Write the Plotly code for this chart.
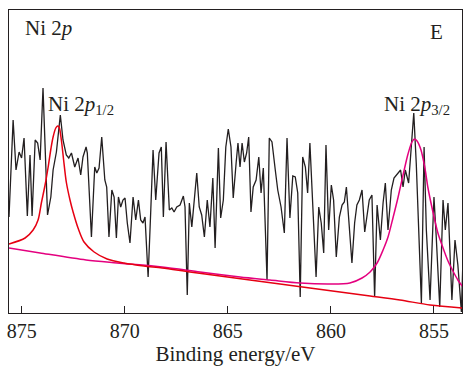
import plotly.graph_objects as go

# Measured Ni 2p spectrum (binding energy in eV, intensity in a.u.)
energy = [875.62, 875.42, 875.28, 875.13, 875.01, 874.89, 874.73, 874.60, 874.50, 874.35,
          874.23, 874.11, 873.97, 873.75, 873.59, 873.48, 873.32, 873.13, 873.00, 872.84,
          872.72, 872.59, 872.43, 872.27, 872.14, 872.03, 871.88, 871.82, 871.62, 871.46,
          871.36, 871.25, 871.12, 870.97, 870.88, 870.77, 870.63, 870.52, 870.41, 870.31,
          870.20, 870.09, 869.99, 869.88, 869.75, 869.60, 869.47, 869.34, 869.23, 869.12,
          869.02, 868.87, 868.74, 868.63, 868.50, 868.34, 868.23, 868.13, 868.00, 867.84,
          867.72, 867.61, 867.48, 867.32, 867.16, 867.08, 866.97, 866.87, 866.75, 866.64,
          866.51, 866.39, 866.27, 866.14, 866.00, 865.87, 865.73, 865.62, 865.46, 865.35,
          865.22, 865.10, 864.98, 864.85, 864.74, 864.60, 864.51, 864.41, 864.31, 864.20,
          864.09, 863.99, 863.88, 863.77, 863.63, 863.50, 863.39, 863.28, 863.10, 862.99,
          862.86, 862.70, 862.58, 862.42, 862.26, 862.13, 861.99, 861.85, 861.73, 861.61,
          861.49, 861.37, 861.24, 861.13, 861.02, 860.72, 860.59, 860.47, 860.35, 860.24,
          860.11, 859.98, 859.87, 859.74, 859.59, 859.46, 859.35, 859.25, 859.14, 858.98,
          858.85, 858.74, 858.62, 858.49, 858.36, 858.25, 858.14, 858.01, 857.88, 857.76,
          857.60, 857.47, 857.36, 857.23, 857.07, 856.94, 856.75, 856.62, 856.50, 856.39,
          856.23, 856.10, 855.98, 855.86, 855.73, 855.61, 855.48, 855.37, 855.19, 855.00,
          854.89, 854.72, 854.56, 854.45, 854.32, 854.13, 853.98, 853.84, 853.67, 853.59]
intensity = [96, 193, 143, 161, 155, 175, 97, 158, 97, 173,
             170, 153, 225, 98, 116, 143, 161, 198, 173, 158,
             155, 160, 146, 155, 138, 156, 166, 160, 76, 146,
             140, 145, 176, 133, 126, 76, 123, 116, 75, 116,
             106, 113, 115, 90, 70, 116, 93, 113, 93, 90,
             96, 36, 103, 163, 113, 160, 166, 96, 171, 103,
             105, 101, 106, 108, 117, 106, 18, 110, 86, 113,
             140, 106, 98, 76, 113, 86, 135, 65, 165, 95,
             113, 166, 184, 166, 115, 150, 170, 146, 170, 151,
             160, 176, 101, 126, 133, 156, 120, 145, 33, 175,
             171, 143, 123, 106, 80, 175, 95, 137, 136, 120,
             16, 156, 146, 120, 170, 36, 106, 90, 60, 168,
             83, 128, 113, 56, 96, 108, 111, 126, 93, 50,
             90, 108, 113, 123, 81, 96, 113, 118, 16, 108,
             73, 110, 130, 83, 123, 135, 140, 143, 126, 143,
             130, 170, 200, 150, 83, 10, 166, 83, 13, 116,
             76, 6, 113, 83, 110, 13, 73, 48, 1, 56]

# Ni 2p1/2 fitted component (red) with its background
fit1_energy = [875.62, 874.84, 874.45, 874.21, 874.05, 873.87, 873.72, 873.58, 873.48, 873.35,
               873.26, 873.19, 873.08, 872.97, 872.84, 872.66, 872.51, 872.27, 871.98, 871.49,
               870.86, 870.04, 869.07, 868.19, 866.84, 865.38, 863.93, 862.47, 861.02, 859.56,
               858.10, 856.65, 855.19, 853.59]
fit1_intensity = [69, 75, 83, 93, 110, 128, 146, 165, 176, 185,
                  187, 186, 173, 153, 131, 113, 101, 85, 71, 61,
                  54, 50, 47, 45, 41, 37, 33, 29, 25, 21,
                  17, 13, 8, 5]

# Ni 2p3/2 fitted component (magenta) with its background
fit2_energy = [875.62, 874.11, 871.88, 870.38, 868.19, 866.35, 864.41, 862.96, 861.50, 860.05,
               859.08, 858.49, 858.10, 857.76, 857.47, 857.23, 856.99, 856.75, 856.50, 856.26,
               856.07, 855.95, 855.82, 855.63, 855.44, 855.29, 855.05, 854.81, 854.56, 854.32,
               854.08, 853.84, 853.59]
fit2_intensity = [65, 60, 53, 50, 46, 41, 36, 33, 30, 29,
                  30, 35, 41, 50, 63, 76, 95, 115, 138, 159,
                  171, 174, 172, 163, 145, 125, 101, 80, 65, 52,
                  42, 33, 26]

tick_vals = [875, 870, 865, 860, 855]
tick_text = ["875", "870", "865", "860", "855"]

FONT = "Liberation Serif"
INK = "#231f20"

fig = go.Figure()
fig.add_trace(go.Scatter(x=energy, y=intensity, mode="lines",
                         line=dict(color=INK, width=1.3), hoverinfo="skip"))
fig.add_trace(go.Scatter(x=fit2_energy, y=fit2_intensity, mode="lines",
                         line=dict(color="#e4007f", width=1.5, shape="spline", smoothing=0.8),
                         hoverinfo="skip"))
fig.add_trace(go.Scatter(x=fit1_energy, y=fit1_intensity, mode="lines",
                         line=dict(color="#e60012", width=1.5, shape="spline", smoothing=0.8),
                         hoverinfo="skip"))

fig.update_layout(
    width=463, height=367,
    margin=dict(l=9, r=1, t=10, b=54),
    paper_bgcolor="white", plot_bgcolor="white",
    showlegend=False,
    font=dict(family=FONT, size=20, color=INK),
    xaxis=dict(range=[875.62, 853.64], tickvals=tick_vals, ticktext=tick_text,
               ticks="inside", ticklen=7, tickwidth=1, tickcolor=INK,
               showline=True, linecolor=INK, linewidth=1, mirror=True,
               showgrid=False, zeroline=False,
               tickfont=dict(family=FONT, size=20, color=INK),
               title=dict(text="Binding energy/eV", standoff=5,
                          font=dict(family=FONT, size=21, color=INK))),
    yaxis=dict(range=[0, 303], showticklabels=False, ticks="",
               showline=True, linecolor=INK, linewidth=1, mirror=True,
               showgrid=False, zeroline=False),
    annotations=[
        dict(text="Ni 2<i>p</i>", xref="paper", yref="paper", x=0.031, y=0.94,
             xanchor="left", yanchor="middle", showarrow=False,
             font=dict(family=FONT, size=21, color=INK)),
        dict(text="E", xref="paper", yref="paper", x=0.9625, y=0.927,
             xanchor="right", yanchor="middle", showarrow=False,
             font=dict(family=FONT, size=21, color=INK)),
        dict(text="Ni 2<i>p</i><sub>1/2</sub>", xref="paper", yref="paper", x=0.082, y=0.685,
             xanchor="left", yanchor="middle", showarrow=False,
             font=dict(family=FONT, size=21, color=INK)),
        dict(text="Ni 2<i>p</i><sub>3/2</sub>", xref="paper", yref="paper", x=0.8227, y=0.685,
             xanchor="left", yanchor="middle", showarrow=False,
             font=dict(family=FONT, size=21, color=INK)),
    ],
)

fig.write_html("out.html")
